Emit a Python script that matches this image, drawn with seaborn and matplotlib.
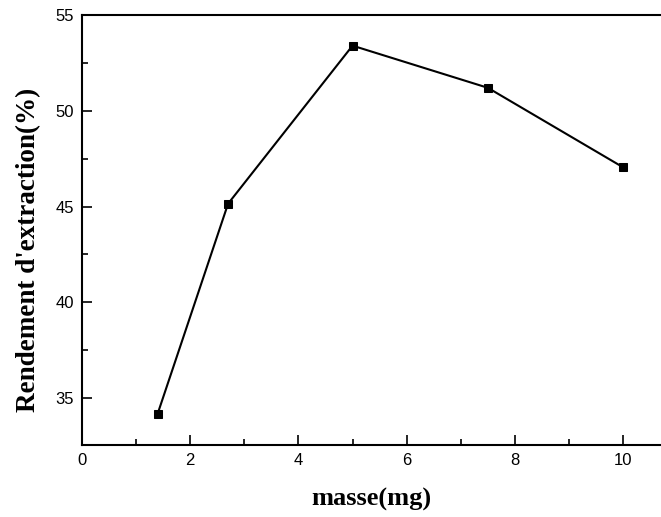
import pandas as pd
import seaborn as sns
import matplotlib.pyplot as plt
from matplotlib.ticker import MultipleLocator

# données
masse = [1.4, 2.7, 5.0, 7.5, 10.0]
rendement = [34.2, 45.15, 53.4, 51.2, 47.05]

df = pd.DataFrame({"masse": masse, "rendement": rendement})

sns.set_style("ticks")
plt.rcParams["font.family"] = ["Liberation Sans", "DejaVu Sans"]
plt.rcParams["text.color"] = "black"
plt.rcParams["axes.labelcolor"] = "black"
plt.rcParams["xtick.color"] = "black"
plt.rcParams["ytick.color"] = "black"

fig = plt.figure(figsize=(6.61, 5.17), dpi=100)
ax = fig.add_axes([0.124, 0.139, 0.876, 0.832])

sns.lineplot(data=df, x="masse", y="rendement", ax=ax, color="black",
             marker="s", markersize=6, markeredgecolor="black", linewidth=1.5)

ax.set_xlim(0, 10.7)
ax.set_ylim(32.55, 55)
ax.xaxis.set_major_locator(MultipleLocator(2))
ax.xaxis.set_minor_locator(MultipleLocator(1))
ax.yaxis.set_major_locator(MultipleLocator(5))
ax.yaxis.set_minor_locator(MultipleLocator(2.5))
ax.tick_params(which="both", direction="in", labelsize=12, width=1.2,
               color="black", labelcolor="black")
ax.tick_params(which="major", length=7, pad=6)
ax.tick_params(which="minor", length=4)

for s in ["left", "bottom", "top"]:
    ax.spines[s].set_linewidth(1.5)
    ax.spines[s].set_color("black")
ax.spines["right"].set_visible(False)

ax.set_xlabel("masse(mg)", fontfamily="Liberation Serif", fontweight="bold",
              fontsize=19, labelpad=14, color="black")
ax.set_ylabel("Rendement d'extraction(%)", fontfamily="Liberation Serif",
              fontweight="bold", fontsize=19.5, labelpad=10, color="black")
ax.yaxis.label.set_y(0.453)

fig.savefig("out.png", dpi=100)
